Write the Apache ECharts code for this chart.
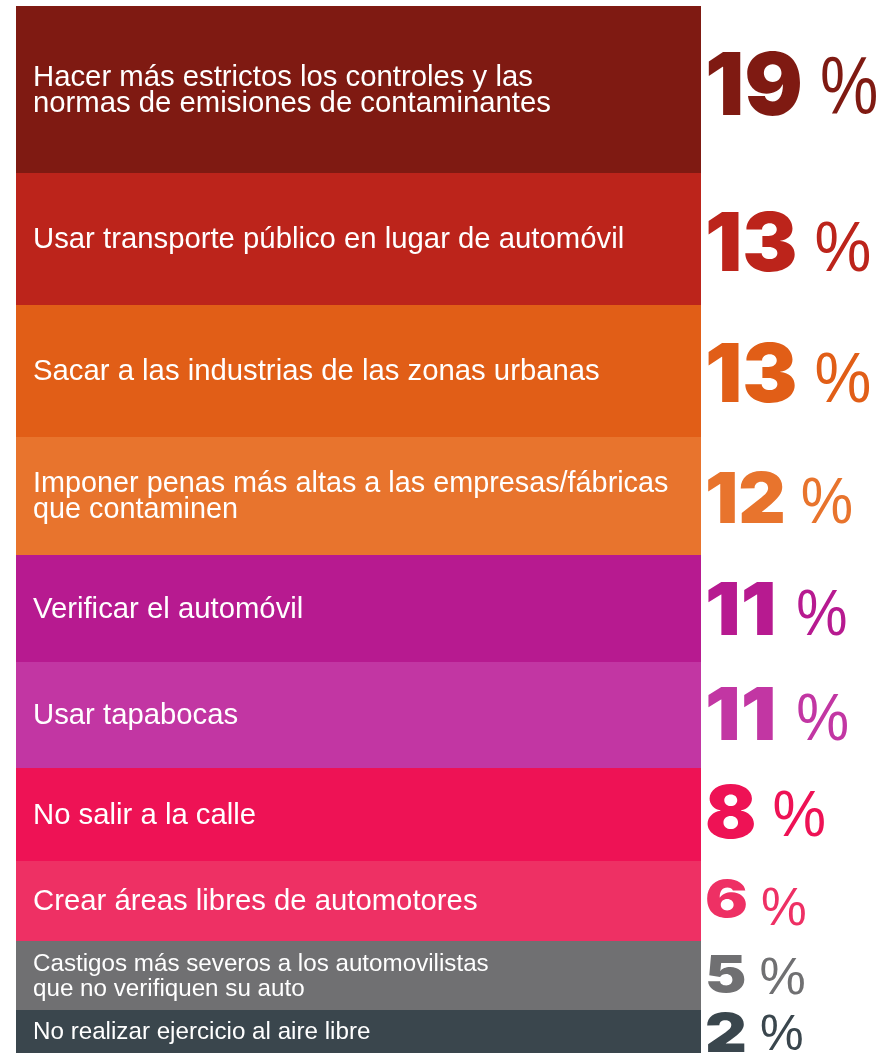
<!DOCTYPE html>
<html>
<head>
<meta charset="utf-8">
<script src="https://cdn.jsdelivr.net/npm/echarts@6/dist/echarts.min.js"></script>
<style>
html,body{margin:0;padding:0;background:#fff;}
#chart{width:893px;height:1054px;}
</style>
</head>
<body>
<div id="chart"></div>
<script>
// ---- data ----
const categories = [
  'Hacer más estrictos los controles y las\nnormas de emisiones de contaminantes',
  'Usar transporte público en lugar de automóvil',
  'Sacar a las industrias de las zonas urbanas',
  'Imponer penas más altas a las empresas/fábricas\nque contaminen',
  'Verificar el automóvil',
  'Usar tapabocas',
  'No salir a la calle',
  'Crear áreas libres de automotores',
  'Castigos más severos a los automovilistas\nque no verifiquen su auto',
  'No realizar ejercicio al aire libre'
];
const percentValues = [19, 13, 13, 12, 11, 11, 8, 6, 5, 2];
// relative height of each band as drawn in the infographic (share of the column)
const bandShare = [15.95, 12.61, 12.61, 11.27, 10.22, 10.12, 8.88, 7.64, 6.59, 4.11];

// ---- styles ----
const colors = ['#7F1A12', '#BC241B', '#E15E17', '#E8742D', '#B71A90',
                '#C236A3', '#EE1255', '#EE3064', '#707072', '#3A464D'];
const labelFont = [29.3, 29.3, 29.3, 28.8, 29.3, 29.3, 29.3, 29.3, 24.2, 24.2];
const labelLine = [26, 26, 26, 26, 26, 26, 26, 26, 25, 25];
const digitFont = [87, 81, 81, 70, 73, 73, 73, 51, 51, 54];
const digitScaleX = [1, 1.02, 1.02, 1.05, 1.08, 1.08, 1.04, 1.25, 1.22, 1.2];
const digitNudge = [-6, 3, 1.5, 1.5, 0, -1.5, -3, -2.5, -2, 1];
const pctFont = [82, 71, 71, 64, 64, 66, 64, 53, 52, 50];
const pctScaleX = [0.8, 0.9, 0.9, 0.92, 0.9, 0.9, 0.94, 0.97, 1.0, 0.98];
const pctNudge = [2.5, 5, 5, 4, 4, 4, 2, 9, 3, 0];
const pctGapExtra = [0, 0, 0, 0, 4, 4, 0, 0, 0, 0];
const FAM = '"Liberation Sans", Arial, Helvetica, sans-serif';
const DFAM = 'Inter, "Liberation Sans", Arial, sans-serif';

// build table of band extents
const rows = [];
let acc = 0;
for (let i = 0; i < bandShare.length; i++) {
  rows.push([acc, acc + bandShare[i], percentValues[i], i]);
  acc += bandShare[i];
}
const total = acc;

const measureCtx = document.createElement('canvas').getContext('2d');
function textWidth(str, font) {
  measureCtx.font = font;
  return measureCtx.measureText(str).width;
}

const chart = echarts.init(document.getElementById('chart'), null, {renderer: 'canvas'});
chart.setOption({
  animation: false,
  backgroundColor: '#ffffff',
  grid: {left: 16, right: 192, top: 6, bottom: 1},
  xAxis: {type: 'value', min: 0, max: 1, show: false},
  yAxis: {type: 'value', min: 0, max: total, inverse: true, show: false},
  series: [{
    type: 'custom',
    data: rows,
    clip: false,
    renderItem: function (params, api) {
      const s = api.value(0), e = api.value(1), pct = api.value(2), i = api.value(3);
      const p0 = api.coord([0, s]);
      const p1 = api.coord([1, e]);
      const x0 = p0[0], y0 = p0[1], x1 = p1[0], y1 = p1[1];
      const mid = (y0 + y1) / 2;
      const col = colors[i];
      const numStr = String(pct);
      const dFont = '900 ' + digitFont[i] + 'px ' + DFAM;
      const dW = textWidth(numStr, dFont) * digitScaleX[i];
      const numX = x1 + 4;
      const pctX = numX + dW + Math.round(digitFont[i] * 0.12) + 7 + pctGapExtra[i];
      const dy = digitFont[i] * 0.06 + digitNudge[i];
      return {
        type: 'group',
        children: [
          {type: 'rect', shape: {x: x0, y: y0, width: x1 - x0, height: y1 - y0},
           style: {fill: col}},
          {type: 'text',
           style: {text: categories[i], x: x0 + 17, y: mid + 1, align: 'left', verticalAlign: 'middle',
                   fill: '#ffffff', fontSize: labelFont[i], lineHeight: labelLine[i],
                   fontFamily: FAM}},
          {type: 'text', x: numX, y: mid + dy, scaleX: digitScaleX[i],
           style: {text: numStr, x: 0, y: 0, align: 'left', verticalAlign: 'middle',
                   fill: col, fontSize: digitFont[i], fontWeight: 900, fontFamily: DFAM}},
          {type: 'text', x: pctX, y: mid + dy + pctNudge[i], scaleX: pctScaleX[i],
           style: {text: '%', x: 0, y: 0, align: 'left', verticalAlign: 'middle',
                   fill: col, fontSize: pctFont[i], fontWeight: 'normal', fontFamily: FAM}}
        ]
      };
    }
  }]
});
</script>
</body>
</html>
